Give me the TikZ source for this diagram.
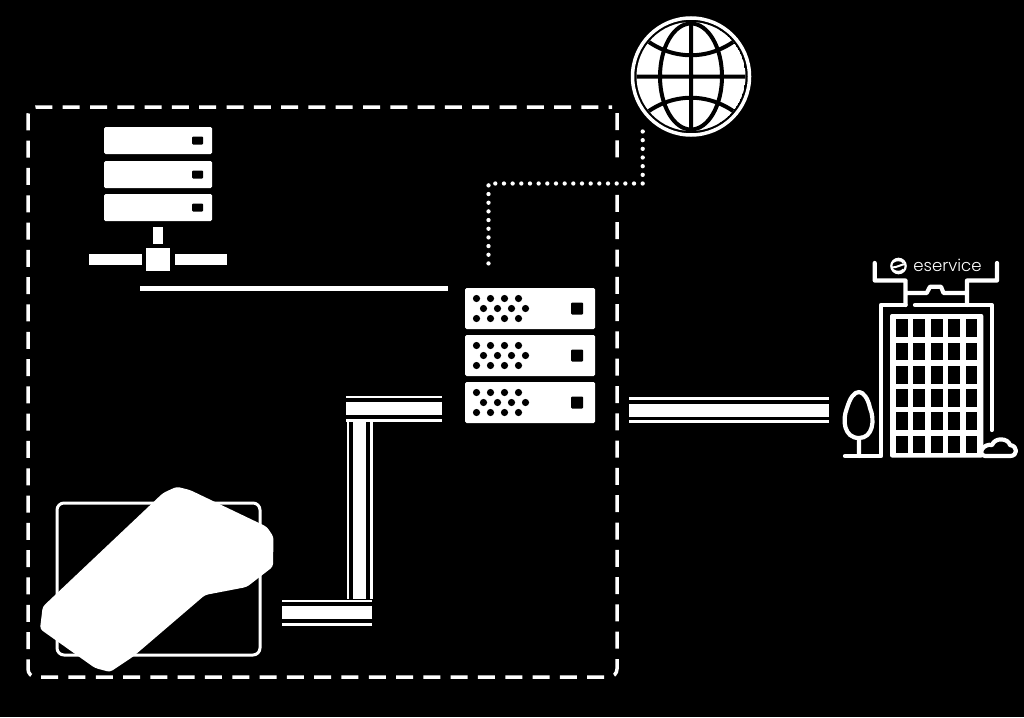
\documentclass[tikz,border=0pt]{standalone}
\usepackage{fontspec}
\newfontfamily\brandfont{Poppins Light}
\tikzset{
rackunit/.style={fill=white,rounded corners=1.5pt,inner sep=0pt,minimum height=41pt,minimum width=130pt},
lanunit/.style={fill=white,rounded corners=1.5pt,inner sep=0pt,minimum height=27pt,minimum width=108pt},
blockpart/.style={fill=white,inner sep=0pt},
led/.style={fill=black,rounded corners=1pt},
tube/.style={draw=white,line width=13pt,preaction={draw=white,line width=26pt},preaction={draw=black,line width=20.6pt}},
outline/.style={draw=white,line width=4.2pt,line join=round,line cap=round}
}
\begin{document}
\begin{tikzpicture}[x=1pt,y=-1pt]
\useasboundingbox[fill=black] (0,0) rectangle (1024,717);
\draw[white,line width=3.5pt,dash pattern=on 17pt off 10.3pt,rounded corners=8pt] (617,113) -- (617,677) -- (28,677) -- (28,107) -- (612,107);
\fill[black] (612,165) rectangle (622,186);
% globe
\node[circle,draw=white,line width=3.5pt,inner sep=0pt,minimum size=117pt] (globe) at (691,76.5) {};
\begin{scope}
\clip (691,76.5) circle (54.5);
\fill[white] (691,76.5) circle (54.5);
\draw[black,line width=4pt] (691,76.5) ellipse (31 and 53) (691,20) -- (691,130) (635,76.5) -- (747,76.5);
\draw[black,line width=4pt] (640,35) .. controls (670,62) and (712,62) .. (742,35);
\draw[black,line width=4pt] (640,118) .. controls (670,91) and (712,91) .. (742,118);
\end{scope}
% lan server
\foreach \n/\y in {1/140.5,2/174.5,3/207.5}{
\node[lanunit] (lan\n) at (158,\y) {};
\fill[led] (192,\y-4) rectangle (203,\y+4);
}
\node[blockpart,minimum width=10pt,minimum height=17pt] (lanstem) at (158,235.5) {};
\node[blockpart,minimum width=24pt,minimum height=23pt] (lanhub) at (158,259.5) {};
\node[blockpart,minimum width=53pt,minimum height=11pt] (lanleft) at (115.5,259.5) {};
\node[blockpart,minimum width=52pt,minimum height=11pt] (lanright) at (201,259.5) {};
% central rack
\foreach \n/\y in {1/308.5,2/355.5,3/402.5}{
\node[rackunit] (rack\n) at (530,\y) {};
\fill[led] (571,\y-6) rectangle (583,\y+6);
\foreach \x in {476.5,490.5,504.5,518.5}{
\fill[black] (\x,\y-10) circle (3.6) (\x+7,\y) circle (3.6) (\x,\y+10) circle (3.6);
}
}
% links
\coordinate (lanend) at (140,288.3);
\coordinate (rackend) at (448,288.3);
\draw[white,line width=5pt] (lanend) -- (rackend);
\coordinate (webfrom) at (642.7,131.5);
\coordinate (webknee) at (642.7,183.5);
\coordinate (rackknee) at (488.5,183.5);
\coordinate (webto) at (488.5,272);
\draw[white,line width=4.3pt,line cap=round,dash pattern=on 0pt off 8.67pt] (webfrom) -- (webknee) -- (rackknee) -- (webto);
\coordinate (tubea) at (442,408.5);
\coordinate (tubeb) at (346,408.5);
\coordinate (tubec) at (359.5,421);
\coordinate (tubed) at (359.5,599);
\coordinate (tubee) at (372,612.5);
\coordinate (tubef) at (282,612.5);
\coordinate (tubeg) at (629.3,410);
\coordinate (tubeh) at (829.3,410);
\draw[tube] (tubec) -- (tubed);
\draw[tube] (tubea) -- (tubeb);
\draw[tube] (tubee) -- (tubef);
\draw[tube] (tubeg) -- (tubeh);
% terminal
\node[draw=white,line width=3pt,rounded corners=7pt,inner sep=0pt,minimum width=203pt,minimum height=152pt] (posbox) at (158.5,579) {};
\fill[white,rounded corners=3pt] (176.7,486.7) -- (190,490) -- (266.7,526.7) -- (273.5,536.7) -- (273,566.7) -- (246.7,587) -- (205,595) -- (133,656.7) -- (110,672) -- (95,668) -- (40,629) -- (42.7,606.7) -- (163,493) -- cycle;
% office
\draw[outline] (874.7,263) -- (874.7,280.5) -- (905.5,280.5) -- (905.5,305) (905.5,293) -- (926.7,293) -- (930,286.7) -- (941,286.7) -- (943.5,293) -- (967,293) -- (967,305) (967,280.5) -- (967,293) (967,280.5) -- (997,280.5) -- (997,263);
\draw[outline] (845,456) -- (881,456) -- (881,305) -- (905.5,305);
\draw[outline] (915,305) -- (991.7,305) -- (991.7,430);
\fill[white,rounded corners=2pt] (890,314) rectangle (983.3,457.5);
\foreach \x in {896,913.3,931,948.3,965.7}{
\foreach \y in {319.3,342.7,366,389,412.3,435.7}{
\fill[black] (\x,\y) rectangle +(11.5,17.5);
}
}
\draw[outline] (859,456) -- (859,438) .. controls (844,438) and (842,420) .. (847,408) .. controls (850,398) and (854,392) .. (859,392) .. controls (863,392) and (868,398) .. (870,408) .. controls (875,420) and (873,438) .. (859,438);
\draw[outline] (1010,456) .. controls (1018,456) and (1018,446) .. (1010,445) .. controls (1008,438) and (995,437) .. (992,445) .. controls (984,443) and (976,454) .. (985,456) -- cycle;
\draw[white,line width=2.2pt] (898.5,266) circle (7.2);
\draw[white,line width=2pt] (892,267.5) .. controls (897,267.5) and (901,264.5) .. (905.5,264) (893,262) .. controls (896,259.5) and (901,259.5) .. (903.5,262.5) (893,270) .. controls (896,272.5) and (901,272.5) .. (903.5,269.5);
\node[white,font=\brandfont\fontsize{16.5}{16.5}\selectfont,inner sep=0pt] (brand) at (947.5,265) {eservice};
\end{tikzpicture}
\end{document}
